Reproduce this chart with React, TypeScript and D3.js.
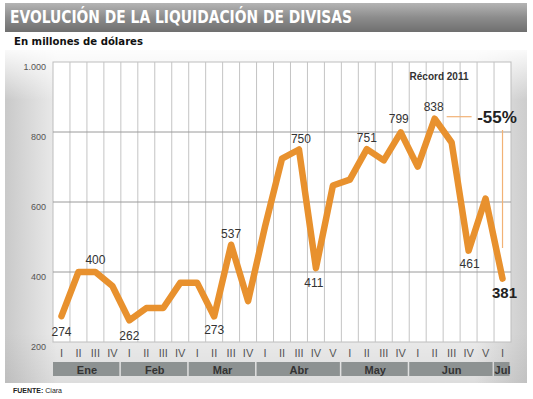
import { scaleBand, scaleLinear, line, range } from "d3";

const WEEKS = [
  "I", "II", "III", "IV",
  "I", "II", "III", "IV",
  "I", "II", "III", "IV",
  "I", "II", "III", "IV", "V",
  "I", "II", "III", "IV",
  "I", "II", "III", "IV", "V",
  "I",
];
const MONTHS = ["Ene", "Feb", "Mar", "Abr", "May", "Jun", "Jul"];
const WEEKS_PER_MONTH = [4, 4, 4, 5, 4, 5, 1];
const VALUES = [
  274, 400, 400, 360, 262, 297, 297, 369, 369, 273, 478, 317, 530, 724, 750,
  411, 647, 664, 751, 719, 799, 701, 838, 770, 461, 610, 381,
];
// printed labels: index, text, dx, dy from the point
const LABELS: [number, string, number, number][] = [
  [0, "274", 0, 20],
  [2, "400", 0, -8],
  [4, "262", 0, 20],
  [9, "273", 0, 18],
  [10, "537", 0, -7],
  [14, "750", 2, -7],
  [15, "411", -2, 19],
  [18, "751", 0, -7],
  [20, "799", -2, -9],
  [22, "838", -1, -8],
  [24, "461", 1, 17],
];
const Y_TICKS = [200, 400, 600, 800, 1000];

const W = 533;
const H = 399;
const PLOT = { left: 53, right: 511, top: 62, bottom: 342 };
const ORANGE = "#e8912e";

export default function App() {
  const x = scaleBand<number>()
    .domain(range(VALUES.length))
    .range([PLOT.left, PLOT.right]);
  const y = scaleLinear().domain([200, 1000]).range([PLOT.bottom, PLOT.top]);
  const cx = (i: number) => (x(i) ?? 0) + x.bandwidth() / 2;

  const path = line<number>()
    .x((_, i) => cx(i))
    .y((d) => y(d));

  let start = 0;
  const monthSpans = MONTHS.map((m, k) => {
    const s = start;
    start += WEEKS_PER_MONTH[k];
    return { m, s, e: start };
  });

  const last = VALUES.length - 1;

  return (
    <svg
      width={W}
      height={H}
      style={{ position: "absolute", left: 0, top: 0 }}
      fontFamily="Liberation Sans, Arial, sans-serif"
    >
      <defs>
        <linearGradient id="hdr" x1="0" y1="0" x2="0" y2="1">
          <stop offset="0" stopColor="#b4b4b4" />
          <stop offset="0.5" stopColor="#8c8c8c" />
          <stop offset="1" stopColor="#6f6f6f" />
        </linearGradient>
        <linearGradient id="panelH" x1="0" y1="0" x2="1" y2="0">
          <stop offset="0" stopColor="#c9c9c9" />
          <stop offset="0.1" stopColor="#ebebeb" />
          <stop offset="0.9" stopColor="#ebebeb" />
          <stop offset="1" stopColor="#cdcdcd" />
        </linearGradient>
        <linearGradient id="panelV" x1="0" y1="0" x2="0" y2="1">
          <stop offset="0" stopColor="#ffffff" stopOpacity="0.9" />
          <stop offset="0.15" stopColor="#ffffff" stopOpacity="0" />
          <stop offset="0.85" stopColor="#000000" stopOpacity="0" />
          <stop offset="1" stopColor="#000000" stopOpacity="0.06" />
        </linearGradient>
      </defs>
      <rect width={W} height={H} fill="#ffffff" />

      {/* header */}
      <rect x={5} y={3} width={522} height={29} fill="url(#hdr)" />
      <text
        x={10}
        y={23}
        fill="#ffffff"
        fontFamily="DejaVu Sans Condensed, DejaVu Sans"
        fontWeight="bold"
        fontSize={17}
        textLength={342}
        lengthAdjust="spacingAndGlyphs"
      >
        EVOLUCIÓN DE LA LIQUIDACIÓN DE DIVISAS
      </text>
      <text
        x={14}
        y={45}
        fill="#111"
        fontFamily="DejaVu Sans"
        fontWeight="bold"
        fontSize={11}
        textLength={129}
        lengthAdjust="spacingAndGlyphs"
      >
        En millones de dólares
      </text>

      {/* panel */}
      <rect x={5} y={50} width={522} height={333} fill="url(#panelH)" />
      <rect x={5} y={50} width={522} height={333} fill="url(#panelV)" />

      {/* plot area */}
      <rect
        x={PLOT.left}
        y={PLOT.top}
        width={PLOT.right - PLOT.left}
        height={PLOT.bottom - PLOT.top}
        fill="#ffffff"
        stroke="#bdbdbd"
      />
      {range(1, VALUES.length).map((i) => (
        <line
          key={i}
          x1={x(i)}
          x2={x(i)}
          y1={PLOT.top}
          y2={PLOT.bottom}
          stroke="#c4c4c4"
          strokeWidth={1}
        />
      ))}
      {Y_TICKS.slice(1, -1).map((t) => (
        <line
          key={t}
          x1={PLOT.left}
          x2={PLOT.right}
          y1={y(t)}
          y2={y(t)}
          stroke="#9a9a9a"
          strokeWidth={1}
        />
      ))}
      {Y_TICKS.map((t) => (
        <text
          key={t}
          x={46}
          y={y(t) + 8}
          textAnchor="end"
          fontSize={9}
          fill="#555"
        >
          {t === 1000 ? "1.000" : t}
        </text>
      ))}

      {/* x axis */}
      {WEEKS.map((w, i) => (
        <text
          key={i}
          x={cx(i)}
          y={357}
          textAnchor="middle"
          fontSize={11}
          fill="#555"
        >
          {w}
        </text>
      ))}
      {monthSpans.map(({ m, s, e }) => {
        const x0 = x(s) ?? 0;
        const x1 = (x(e - 1) ?? 0) + x.bandwidth();
        return (
          <g key={m}>
            <rect x={x0} y={362} width={x1 - x0 - 1.5} height={14} fill="#8d9292" />
            <text
              x={(x0 + x1) / 2}
              y={373.5}
              textAnchor="middle"
              fontSize={11}
              fontWeight="bold"
              fill="#333"
            >
              {m}
            </text>
          </g>
        );
      })}

      {/* series */}
      <path
        d={path(VALUES) ?? undefined}
        fill="none"
        stroke={ORANGE}
        strokeWidth={6.5}
        strokeLinejoin="round"
        strokeLinecap="round"
      />
      {LABELS.map(([i, txt, dx, dy]) => (
        <text
          key={i}
          x={cx(i) + dx}
          y={y(VALUES[i]) + dy}
          textAnchor="middle"
          fontSize={12}
          fill="#333"
        >
          {txt}
        </text>
      ))}
      <text
        x={cx(last) + 2}
        y={y(VALUES[last]) + 19}
        textAnchor="middle"
        fontSize={15}
        fontWeight="bold"
        fill="#222"
      >
        {VALUES[last]}
      </text>

      {/* record annotation */}
      <text x={439} y={80} textAnchor="middle" fontSize={10} fontWeight="bold" fill="#333">
        Récord 2011
      </text>
      <line
        x1={cx(22) + 12}
        x2={cx(24) + 3}
        y1={y(VALUES[22]) - 2}
        y2={y(VALUES[22]) - 2}
        stroke="#f2b275"
        strokeWidth={1.2}
      />
      <line
        x1={cx(last)}
        x2={cx(last)}
        y1={130}
        y2={248}
        stroke="#f2b275"
        strokeWidth={1.2}
      />
      <text x={497} y={123} textAnchor="middle" fontSize={17} fontWeight="bold" fill="#222">
        -55%
      </text>

      {/* source */}
      <text x={13} y={393} fontSize={7} fill="#222">
        <tspan fontWeight="bold">FUENTE:</tspan> Ciara
      </text>
    </svg>
  );
}
